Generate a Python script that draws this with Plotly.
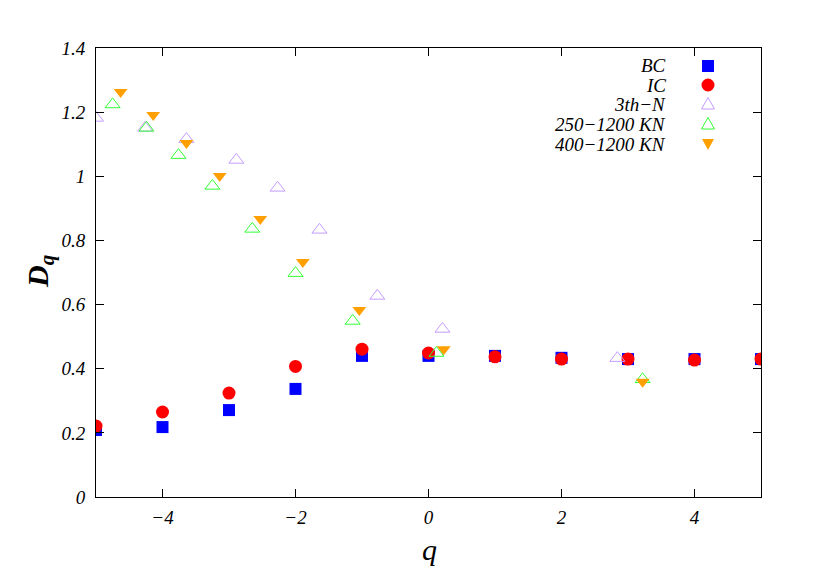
import plotly.graph_objects as go

q_int = [-5, -4, -3, -2, -1, 0, 1, 2, 3, 4, 5]
bc = [0.209, 0.218, 0.271, 0.337, 0.440, 0.440, 0.440, 0.434, 0.430, 0.430, 0.430]
ic = [0.221, 0.265, 0.324, 0.407, 0.461, 0.449, 0.437, 0.430, 0.430, 0.427, 0.430]

q_3th = [-5.0, -4.26, -3.64, -2.89, -2.27, -1.64, -0.77, 0.21, 2.84]
d_3th = [1.182, 1.151, 1.116, 1.051, 0.964, 0.833, 0.627, 0.524, 0.433]

q_250 = [-4.75, -4.24, -3.76, -3.25, -2.65, -2.0, -1.14, 0.12, 3.22]
d_250 = [1.224, 1.151, 1.066, 0.970, 0.836, 0.698, 0.549, 0.449, 0.367]

q_400 = [-4.63, -4.14, -3.64, -3.14, -2.53, -1.89, -1.04, 0.23, 3.22]
d_400 = [1.263, 1.191, 1.104, 1.001, 0.867, 0.733, 0.583, 0.461, 0.359]

labels = ["BC", "IC", "3th\u2212N", "250\u22121200 KN", "400\u22121200 KN"]
colors = ["#0000ff", "#ff0000", "#c49cff", "#33ff33", "#ffa000"]

FONT = "Liberation Serif"

fig = go.Figure()
fig.add_trace(go.Scatter(x=q_int, y=bc, mode="markers", name=labels[0],
                         marker=dict(symbol="square", size=12, color=colors[0])))
fig.add_trace(go.Scatter(x=q_int, y=ic, mode="markers", name=labels[1],
                         marker=dict(symbol="circle", size=13, color=colors[1])))
fig.add_trace(go.Scatter(x=q_3th, y=d_3th, mode="markers", name=labels[2],
                         marker=dict(symbol="triangle-up-open", size=13, color=colors[2],
                                     line=dict(width=1, color=colors[2]))))
fig.add_trace(go.Scatter(x=q_250, y=d_250, mode="markers", name=labels[3],
                         marker=dict(symbol="triangle-up-open", size=13, color=colors[3],
                                     line=dict(width=1, color=colors[3]))))
fig.add_trace(go.Scatter(x=q_400, y=d_400, mode="markers", name=labels[4],
                         marker=dict(symbol="triangle-down", size=12, color=colors[4])))

axis_common = dict(showgrid=False, zeroline=False, showline=True, linecolor="black",
                   linewidth=1, mirror="ticks", ticks="inside", ticklen=8,
                   tickcolor="black",
                   tickfont=dict(family=FONT, size=19, color="black", style="italic"))

fig.update_xaxes(range=[-5, 5], tickvals=[-4, -2, 0, 2, 4], ticklabelstandoff=3,
                 **axis_common)
fig.update_yaxes(range=[0, 1.4], tickvals=[0, 0.2, 0.4, 0.6, 0.8, 1.0, 1.2, 1.4],
                 ticktext=["0", "0.2", "0.4", "0.6", "0.8", "1", "1.2", "1.4"],
                 ticklabelstandoff=6, **axis_common)

# page is offset by 8px body margin; plot area targets screen px 96..761 x 48..497
OX, OY = 8, 8
L, T, W, H = 96 - OX, 48 - OY, 665, 449


def px(xs):
    return (xs - OX - L) / W


def py(ys):
    return (T + H - (ys - OY)) / H


annotations = [
    dict(text="<b><i>D<sub>q</sub></i></b>", xref="paper", yref="paper",
         x=px(40), y=py(272), xanchor="center", yanchor="middle",
         showarrow=False, textangle=-90,
         font=dict(family=FONT, size=30, color="black")),
    dict(text="<i>q</i>", xref="paper", yref="paper",
         x=px(429), y=py(549), xanchor="center", yanchor="middle", showarrow=False,
         font=dict(family=FONT, size=30, color="black")),
]

leg_y_px = [66, 85, 104, 124, 144]
text_x = px(668)
mark_x = px(708)
shapes = []
for i, lab in enumerate(labels):
    yp = py(leg_y_px[i])
    annotations.append(dict(text="<i>" + lab + "</i>", xref="paper", yref="paper",
                            x=text_x, y=yp, xanchor="right", yanchor="middle",
                            showarrow=False,
                            font=dict(family=FONT, size=19, color="black")))
    base = dict(xref="paper", yref="paper", xsizemode="pixel", ysizemode="pixel",
                xanchor=mark_x, yanchor=yp)
    if i == 0:
        shapes.append(dict(type="rect", x0=-6, x1=6, y0=-6, y1=6,
                           fillcolor=colors[0], line=dict(width=0), **base))
    elif i == 1:
        shapes.append(dict(type="circle", x0=-6.5, x1=6.5, y0=-6.5, y1=6.5,
                           fillcolor=colors[1], line=dict(width=0), **base))
    elif i in (2, 3):
        shapes.append(dict(type="path", path="M -6.5 -5 L 6.5 -5 L 0 6.5 Z",
                           line=dict(width=1, color=colors[i]), **base))
    else:
        shapes.append(dict(type="path", path="M -6 5 L 6 5 L 0 -6 Z",
                           fillcolor=colors[4], line=dict(width=0), **base))

fig.update_layout(width=830, height=587, showlegend=False,
                  margin=dict(l=L, r=830 - L - W, t=T, b=587 - T - H),
                  plot_bgcolor="white", paper_bgcolor="white",
                  annotations=annotations, shapes=shapes)

fig.write_html("out.html")
